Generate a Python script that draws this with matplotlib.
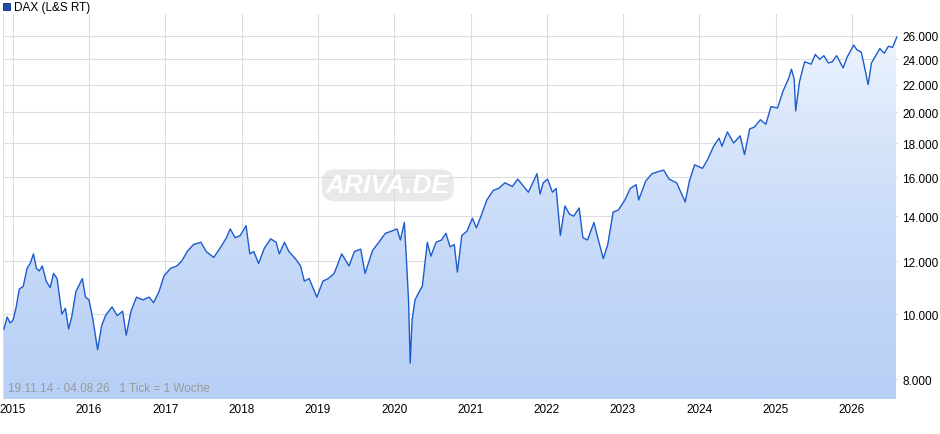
import numpy as np
import pandas as pd
import matplotlib
matplotlib.use("Agg")
from matplotlib import pyplot as plt
from matplotlib.ticker import FixedLocator, NullLocator, FuncFormatter
import matplotlib.dates as mdates

plt.rcParams['font.family'] = ['Liberation Sans', 'DejaVu Sans']

# DAX Schlusskurse (ungefähr), als (Datum, Kurs)
kurse = [
    ('2014-11-19', 9500), ('2014-12-05', 9900), ('2014-12-19', 9700),
    ('2015-01-02', 9800), ('2015-01-16', 10200), ('2015-02-01', 10900), ('2015-02-20', 11000),
    ('2015-03-10', 11700), ('2015-03-25', 11900), ('2015-04-10', 12300), ('2015-04-24', 11700),
    ('2015-05-08', 11600), ('2015-05-22', 11800), ('2015-06-10', 11200), ('2015-06-29', 10950),
    ('2015-07-15', 11500), ('2015-08-01', 11300), ('2015-08-24', 10000), ('2015-09-10', 10200),
    ('2015-09-25', 9500), ('2015-10-10', 9900), ('2015-10-30', 10800), ('2015-11-30', 11300),
    ('2015-12-15', 10600),
    ('2016-01-01', 10500), ('2016-01-20', 9800), ('2016-02-11', 8850), ('2016-03-01', 9600),
    ('2016-03-20', 9950), ('2016-04-20', 10250), ('2016-05-15', 9950), ('2016-06-10', 10100),
    ('2016-06-27', 9300), ('2016-07-20', 10100), ('2016-08-15', 10600), ('2016-09-15', 10500),
    ('2016-10-15', 10600), ('2016-11-05', 10400), ('2016-12-01', 10800), ('2016-12-25', 11400),
    ('2017-01-25', 11700), ('2017-02-25', 11800), ('2017-03-20', 12000), ('2017-04-15', 12400),
    ('2017-05-15', 12700), ('2017-06-20', 12800), ('2017-07-15', 12400), ('2017-08-20', 12150),
    ('2017-09-20', 12550), ('2017-10-20', 13000), ('2017-11-07', 13400), ('2017-12-01', 13000),
    ('2017-12-25', 13100),
    ('2018-01-22', 13550), ('2018-02-09', 12300), ('2018-02-28', 12400), ('2018-03-23', 11900),
    ('2018-04-20', 12550), ('2018-05-20', 12950), ('2018-06-15', 12800), ('2018-06-30', 12300),
    ('2018-07-25', 12800), ('2018-08-15', 12400), ('2018-09-15', 12100), ('2018-10-10', 11800),
    ('2018-10-28', 11200), ('2018-11-20', 11300), ('2018-12-27', 10600),
    ('2019-01-25', 11200), ('2019-02-20', 11300), ('2019-03-20', 11500), ('2019-04-25', 12300),
    ('2019-05-30', 11800), ('2019-06-25', 12400), ('2019-07-25', 12500), ('2019-08-15', 11500),
    ('2019-09-20', 12450), ('2019-10-20', 12800), ('2019-11-20', 13200), ('2019-12-20', 13300),
    ('2020-01-15', 13400), ('2020-01-31', 12900), ('2020-02-19', 13700), ('2020-03-01', 11900),
    ('2020-03-10', 10500), ('2020-03-18', 8450), ('2020-03-27', 9800), ('2020-04-10', 10500),
    ('2020-04-30', 10800), ('2020-05-15', 11000), ('2020-06-08', 12800), ('2020-06-25', 12200),
    ('2020-07-20', 12800), ('2020-08-15', 12900), ('2020-09-05', 13200), ('2020-09-25', 12600),
    ('2020-10-15', 12700), ('2020-10-30', 11550), ('2020-11-20', 13100), ('2020-12-15', 13300),
    ('2021-01-10', 13900), ('2021-01-29', 13450), ('2021-02-20', 14000), ('2021-03-20', 14800),
    ('2021-04-20', 15300), ('2021-05-15', 15400), ('2021-06-15', 15700), ('2021-07-20', 15500),
    ('2021-08-15', 15900), ('2021-09-20', 15400), ('2021-10-05', 15200), ('2021-11-15', 16200),
    ('2021-11-30', 15100), ('2021-12-15', 15700),
    ('2022-01-05', 15900), ('2022-01-28', 15200), ('2022-02-15', 15400), ('2022-03-07', 13100),
    ('2022-03-29', 14500), ('2022-04-20', 14100), ('2022-05-10', 14000), ('2022-06-05', 14400),
    ('2022-06-23', 13000), ('2022-07-15', 12900), ('2022-08-15', 13700), ('2022-09-05', 12900),
    ('2022-09-29', 12100), ('2022-10-20', 12700), ('2022-11-15', 14200), ('2022-12-10', 14300),
    ('2023-01-10', 14800), ('2023-02-05', 15400), ('2023-03-05', 15600), ('2023-03-17', 14800),
    ('2023-04-20', 15800), ('2023-05-20', 16200), ('2023-06-15', 16300), ('2023-07-15', 16400),
    ('2023-08-10', 15900), ('2023-09-15', 15700), ('2023-10-26', 14700), ('2023-11-15', 15800),
    ('2023-12-10', 16700),
    ('2024-01-17', 16500), ('2024-02-10', 17000), ('2024-03-10', 17800), ('2024-04-05', 18300),
    ('2024-04-19', 17800), ('2024-05-15', 18700), ('2024-06-14', 18000), ('2024-07-15', 18450),
    ('2024-08-05', 17300), ('2024-08-30', 18900), ('2024-09-20', 19000), ('2024-10-20', 19500),
    ('2024-11-15', 19200), ('2024-12-10', 20400),
    ('2025-01-10', 20300), ('2025-02-05', 21500), ('2025-03-05', 22500), ('2025-03-18', 23200),
    ('2025-03-31', 22400), ('2025-04-07', 20100), ('2025-04-25', 22200), ('2025-05-20', 23800),
    ('2025-06-20', 23600), ('2025-07-10', 24400), ('2025-07-31', 24000), ('2025-08-20', 24300),
    ('2025-09-10', 23700), ('2025-09-30', 23800), ('2025-10-20', 24300), ('2025-11-20', 23300),
    ('2025-12-10', 24200),
    ('2026-01-10', 25200), ('2026-01-25', 24800), ('2026-02-15', 24600), ('2026-03-01', 23500),
    ('2026-03-20', 22000), ('2026-04-05', 23700), ('2026-04-25', 24300), ('2026-05-15', 24900),
    ('2026-06-05', 24500), ('2026-06-25', 25100), ('2026-07-15', 25000), ('2026-08-04', 25900),
]
yticks = [8000, 10000, 12000, 14000, 16000, 18000, 20000, 22000, 24000, 26000]

df = pd.DataFrame(kurse, columns=['datum', 'kurs'])
df['datum'] = pd.to_datetime(df['datum'])

YMIN, YMAX = 7470, 28040

fig = plt.figure(figsize=(9.4, 4.35), dpi=100)
ax = fig.add_axes([3/940, 1 - 400/435, 895/940, 385/435])

# Verlaufsfläche unter der Linie
grad = np.linspace(0, 1, 256).reshape(-1, 1)
cmap = matplotlib.colors.LinearSegmentedColormap.from_list('g', ['#b8d0f6', '#f4f8fe'])
x0, x1 = mdates.date2num(df['datum'].iloc[0]), mdates.date2num(df['datum'].iloc[-1])
img = ax.imshow(grad, extent=[x0, x1, YMIN, YMAX], aspect='auto', cmap=cmap, origin='lower', zorder=1)
poly = ax.fill_between(df['datum'], df['kurs'], YMIN, color='none', zorder=1)
img.set_clip_path(poly.get_paths()[0], transform=ax.transData)

ax.plot(df['datum'], df['kurs'], color='#1e5ccc', linewidth=1.0, zorder=3)

ax.set_yscale('log')
ax.set_ylim(YMIN, YMAX)
ax.set_xlim(pd.Timestamp('2014-11-15'), pd.Timestamp('2026-08-10'))
ax.set_aspect('auto')

ax.yaxis.set_major_locator(FixedLocator(yticks))
ax.yaxis.set_minor_locator(NullLocator())
ax.yaxis.set_major_formatter(FuncFormatter(lambda v, p: f"{int(v):,}".replace(',', '.')))
ax.yaxis.tick_right()
ax.xaxis.set_major_locator(mdates.YearLocator())
ax.xaxis.set_major_formatter(mdates.DateFormatter('%Y'))

ax.grid(True, color='#dddddd', linewidth=0.8)
ax.set_axisbelow(True)
ax.tick_params(length=0, labelsize=8.5, colors='black', pad=3)
for s in ax.spines.values():
    s.set_visible(False)
ax.axvline(ax.get_xlim()[0], color='#dddddd', lw=0.8, zorder=0)

ax.text(0.43, 0.555, 'ARIVA.DE', transform=ax.transAxes, fontsize=19, style='italic',
        fontweight='bold', color='white', ha='center', va='center', zorder=4,
        bbox=dict(boxstyle='round,pad=0.15,rounding_size=0.5', fc='#d8d8d8', ec='none', alpha=0.55))
ax.text(0.006, 0.012, '19.11.14 - 04.08.26   1 Tick = 1 Woche', transform=ax.transAxes,
        fontsize=8.5, color='#999999', ha='left', va='bottom', zorder=4)

fig.patches.append(matplotlib.patches.Rectangle((3/940, 1 - 11/435), 7/940, 7/435,
                   transform=fig.transFigure, facecolor='#1e4fb0', edgecolor='#0a2a70', lw=0.6))
fig.text(14/940, 1 - 7.5/435, 'DAX (L&S RT)', fontsize=8.5, va='center', ha='left')

fig.savefig('out.png', dpi=100)
